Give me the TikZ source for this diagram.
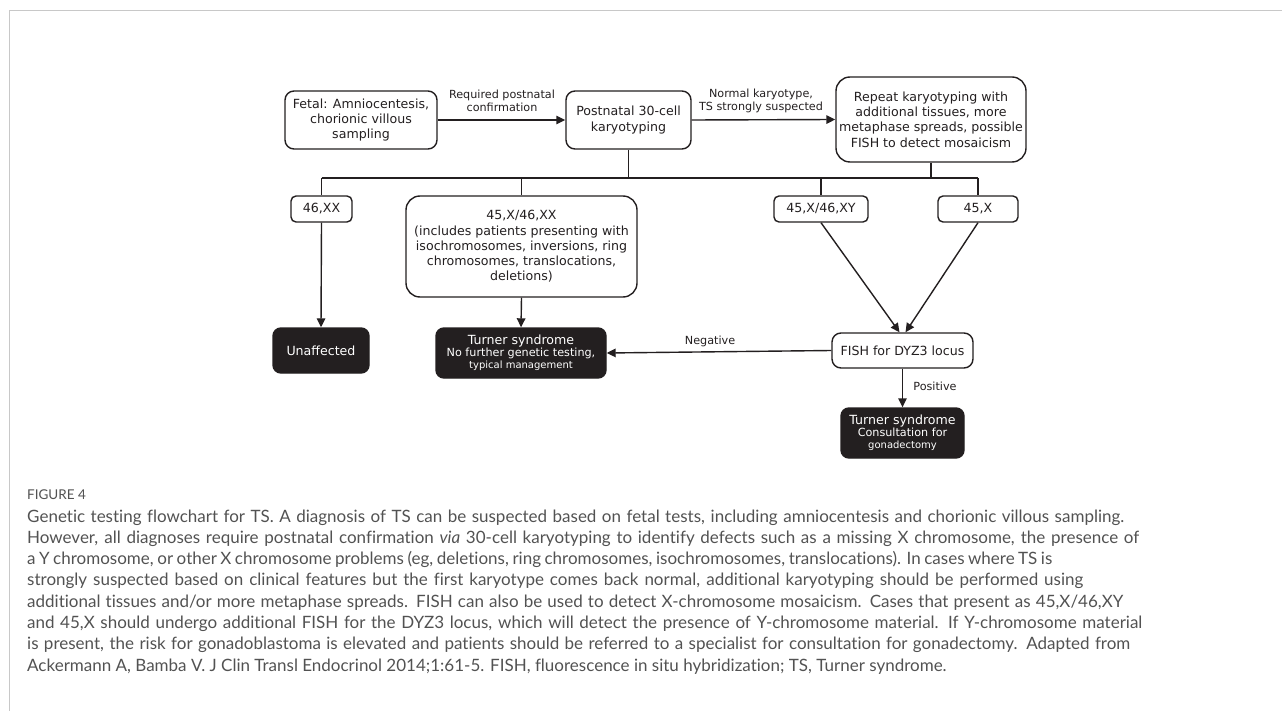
\documentclass[tikz,border=0pt]{standalone}
\usepackage{fontspec}
\setmainfont{DejaVu Sans}
\newfontfamily\capfont[Ligatures=NoCommon]{Lato}
\usetikzlibrary{arrows.meta}
\definecolor{ink}{HTML}{231F20}
\definecolor{capgray}{RGB}{82,82,82}
\definecolor{framegray}{RGB}{200,200,200}
\begin{document}
\begin{tikzpicture}[x=1pt,y=-1pt,
  box/.style={draw=ink, line width=1.4pt, rounded corners=9pt, fill=white, align=center, inner sep=0pt, font=\fontsize{12.6}{15.3}\selectfont, text=ink},
  dark/.style={draw=ink, line width=1.4pt, rounded corners=8pt, fill=ink, text=white, align=center, inner sep=0pt},
  lbl/.style={font=\fontsize{11.2}{13}\selectfont, text=ink, align=center, inner sep=0pt},
  conn/.style={draw=ink, line width=1.4pt},
  arr/.style={conn, -{Triangle[length=9pt,width=8.5pt]}},
  capline/.style={anchor=base west, inner sep=0pt, text=capgray, font=\capfont\fontsize{17}{20}\selectfont},
]
\useasboundingbox (0,0) rectangle (1282,711);
\draw[framegray, line width=1.5pt] (9.5,711) -- (9.5,10.5) -- (1282,10.5);

% top row
\node[box, minimum width=152pt, minimum height=58pt] (fetal) at (361,120) {Fetal: Amniocentesis,\\chorionic villous\\sampling};
\node[box, minimum width=125pt, minimum height=58pt] (post) at (628.5,120) {Postnatal 30-cell\\karyotyping};
\node[box, minimum width=190pt, minimum height=85pt, rounded corners=14pt] (rep) at (931,119.5) {Repeat karyotyping with\\additional tissues, more\\metaphase spreads, possible\\FISH to detect mosaicism};

\draw[arr] (fetal.east) -- (post.west);
\node[lbl] (l1) at (502,100.5) {Required postnatal\\confirmation};
\draw[arr] (post.east) -- (rep.west);
\node[lbl] (l2) at (761,100.5) {Normal karyotype,\\TS strongly suspected};

% second row
\node[box, minimum width=61pt, minimum height=26pt, rounded corners=5pt] (xx) at (321.5,209) {46,XX};
\node[box, minimum width=231pt, minimum height=101pt, rounded corners=14pt] (big) at (521.5,246.5) {45,X/46,XX\\(includes patients presenting with\\isochromosomes, inversions, ring\\chromosomes, translocations,\\deletions)};
\node[box, minimum width=94pt, minimum height=26pt, rounded corners=5pt] (xy) at (821,209) {45,X/46,XY};
\node[box, minimum width=80pt, minimum height=26pt, rounded corners=5pt] (xo) at (978,209) {45,X};

\coordinate (bl) at (321.5,178);
\coordinate (br) at (978,178);
\draw[conn] (bl) -- (br);
\draw[conn] (post.south) -- (post.south |- bl);
\draw[conn] (rep.south) -- (rep.south |- bl);
\draw[conn] (bl) -- (xx.north);
\draw[conn] (big.north |- bl) -- (big.north);
\draw[conn] (xy.north |- bl) -- (xy.north);
\draw[conn] (br) -- (xo.north);

% third row
\node[dark, minimum width=96pt, minimum height=45pt, font=\fontsize{12.6}{15}\selectfont] (un) at (321,350.5) {Unaffected};
\node[dark, minimum width=170pt, minimum height=50pt] (t1) at (521,353) {\fontsize{12.6}{13.5}\selectfont Turner syndrome\\\fontsize{11.2}{13.5}\selectfont No further genetic testing,\\typical management};
\node[box, minimum width=141pt, minimum height=35pt] (fish) at (902.5,350.5) {FISH for DYZ3 locus};
\node[dark, minimum width=123pt, minimum height=50pt] (t2) at (902.5,433) {\fontsize{12.6}{13.5}\selectfont Turner syndrome\\\fontsize{11.2}{13.5}\selectfont Consultation for\\gonadectomy};

\draw[arr] (xx.south) -- (un.north);
\draw[arr] (big.south) -- (t1.north);
\draw[arr] (xy.south) -- ([xshift=-3pt]fish.north);
\draw[arr] (xo.south) -- ([xshift=3pt]fish.north);
\draw[arr] (fish.west) -- (t1.east);
\node[lbl] (neg) at (710,341) {Negative};
\draw[arr] (fish.south) -- (t2.north);
\node[lbl] (pos) at (935,386) {Positive};

% caption
\node[anchor=base west, inner sep=0pt, text=capgray, font=\capfont\fontsize{13.5}{16}\selectfont] (fig) at (27,499) {FIGURE 4};
\node[capline] (c1) at (27,522) {\makebox[1097pt][s]{Genetic testing flowchart for TS. A diagnosis of TS can be suspected based on fetal tests, including amniocentesis and chorionic villous sampling.}};
\node[capline] (c2) at (27,543.3) {\makebox[1112pt][s]{However, all diagnoses require postnatal confirmation \textit{via} 30-cell karyotyping to identify defects such as a missing X chromosome, the presence of}};
\node[capline] (c3) at (27,564.6) {\makebox[1025pt][s]{a Y chromosome, or other X chromosome problems (eg, deletions, ring chromosomes, isochromosomes, translocations). In cases where TS is}};
\node[capline] (c4) at (27,585.9) {\makebox[1056pt][s]{strongly suspected based on clinical features but the first karyotype comes back normal, additional karyotyping should be performed using}};
\node[capline] (c5) at (27,607.2) {\makebox[1096pt][s]{additional tissues and/or more metaphase spreads. FISH can also be used to detect X-chromosome mosaicism. Cases that present as 45,X/46,XY}};
\node[capline] (c6) at (27,628.5) {\makebox[1115pt][s]{and 45,X should undergo additional FISH for the DYZ3 locus, which will detect the presence of Y-chromosome material. If Y-chromosome material}};
\node[capline] (c7) at (27,649.8) {\makebox[1103pt][s]{is present, the risk for gonadoblastoma is elevated and patients should be referred to a specialist for consultation for gonadectomy. Adapted from}};
\node[capline] (c8) at (27,671.1) {Ackermann A, Bamba V. J Clin Transl Endocrinol 2014;1:61-5. FISH, fluorescence in situ hybridization; TS, Turner syndrome.};
\end{tikzpicture}
\end{document}
